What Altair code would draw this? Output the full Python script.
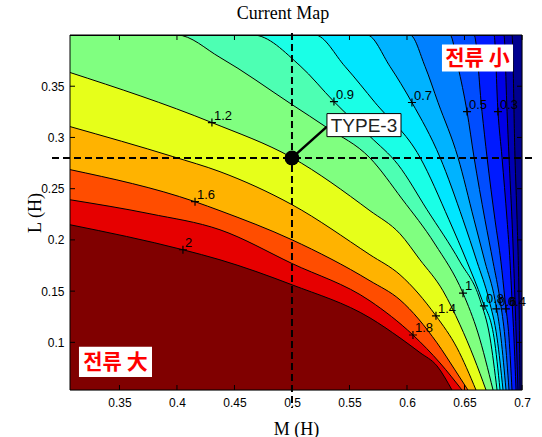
import altair as alt
import pandas as pd

# Axis extents (H)
M_MIN, M_MAX = 0.307, 0.700
L_MIN, L_MAX = 0.0535, 0.400

x_ticks = [0.35, 0.4, 0.45, 0.5, 0.55, 0.6, 0.65, 0.7]
y_ticks = [0.1, 0.15, 0.2, 0.25, 0.3, 0.35]

# Contour levels of the current and the fill colour (jet) of the region above each level
levels = [0.1, 0.2, 0.3, 0.4, 0.5, 0.6, 0.7, 0.8, 0.9, 1.0, 1.2, 1.4, 1.6, 1.8, 2.0]
level_colors = ["#0000b3", "#0000e6", "#001aff", "#004dff", "#0080ff", "#00b3ff",
                "#00e6ff", "#1affe6", "#4dffb3", "#80ff80", "#e6ff1a", "#ffb300",
                "#ff4d00", "#e60000", "#800000"]
below_color = "#00008f"

# Iso-current lines, traced as (M, L) pairs
c01_m = [0.6913, 0.6939, 0.6957, 0.6974, 0.6983]
c01_l = [0.400, 0.2806, 0.2197, 0.1415, 0.0535]
c02_m = [0.6843, 0.6870, 0.6887, 0.6913, 0.6939, 0.6965]
c02_l = [0.400, 0.3253, 0.2806, 0.2197, 0.1415, 0.0535]
c03_m = [0.6757, 0.6791, 0.6826, 0.6870, 0.6896, 0.6913, 0.6930, 0.6948]
c03_l = [0.400, 0.3253, 0.2806, 0.2197, 0.1786, 0.1415, 0.1044, 0.0535]
c04_m = [0.6583, 0.6652, 0.6696, 0.6765, 0.6817, 0.6852, 0.6887, 0.6913]
c04_l = [0.400, 0.3253, 0.2806, 0.2197, 0.1786, 0.1415, 0.1044, 0.0535]
c05_m = [0.6374, 0.6443, 0.6522, 0.6583, 0.6678, 0.6748, 0.6809, 0.6852, 0.6887]
c05_l = [0.400, 0.3693, 0.3253, 0.2806, 0.2197, 0.1786, 0.1415, 0.1044, 0.0535]
c06_m = [0.6026, 0.6157, 0.6270, 0.6443, 0.6583, 0.6678, 0.6765, 0.6817, 0.6861]
c06_l = [0.400, 0.3693, 0.3341, 0.2806, 0.2197, 0.1786, 0.1415, 0.1044, 0.0535]
c07_m = [0.5652, 0.5852, 0.6043, 0.6287, 0.6487, 0.6609, 0.6713, 0.6783, 0.6835]
c07_l = [0.400, 0.3693, 0.3341, 0.2806, 0.2197, 0.1786, 0.1415, 0.1044, 0.0535]
c08_m = [0.5200, 0.5461, 0.5722, 0.6113, 0.6365, 0.6522, 0.6652, 0.6757, 0.6809]
c08_l = [0.400, 0.3693, 0.3341, 0.2806, 0.2197, 0.1786, 0.1415, 0.1044, 0.0535]
c09_m = [0.4661, 0.5070, 0.5365, 0.5678, 0.5922, 0.6174, 0.6461, 0.6635, 0.6722, 0.6783]
c09_l = [0.400, 0.3700, 0.3350, 0.3010, 0.2735, 0.2295, 0.1786, 0.1415, 0.1044, 0.0535]
c10_m = [0.4000, 0.4374, 0.5000, 0.5304, 0.5678, 0.5957, 0.6243, 0.6487, 0.6617, 0.6748]
c10_l = [0.400, 0.3781, 0.3321, 0.3096, 0.2800, 0.2400, 0.1960, 0.1480, 0.1092, 0.0535]
c12_m = [0.307, 0.4304, 0.5000, 0.5678, 0.5939, 0.6113, 0.6313, 0.6461, 0.6583, 0.6687]
c12_l = [0.3634, 0.3145, 0.2803, 0.2285, 0.2060, 0.1806, 0.1503, 0.1171, 0.0848, 0.0535]
c14_m = [0.307, 0.3965, 0.4374, 0.5000, 0.5678, 0.5939, 0.6252, 0.6435, 0.6600]
c14_l = [0.3106, 0.2813, 0.2666, 0.2344, 0.1855, 0.1660, 0.1259, 0.0946, 0.0535]
c16_m = [0.307, 0.4157, 0.4374, 0.5000, 0.5678, 0.5939, 0.6261, 0.6417, 0.6530]
c16_l = [0.2686, 0.2373, 0.2285, 0.2001, 0.1601, 0.1415, 0.0995, 0.0731, 0.0535]
c18_m = [0.307, 0.3765, 0.4374, 0.5000, 0.5678, 0.6052, 0.6287, 0.6478]
c18_l = [0.2392, 0.2255, 0.2099, 0.1770, 0.1405, 0.1072, 0.0799, 0.0535]
c20_m = [0.307, 0.4052, 0.4374, 0.5000, 0.5678, 0.5939, 0.6113, 0.6261, 0.6391]
c20_l = [0.2148, 0.1904, 0.1806, 0.1562, 0.1239, 0.1044, 0.0900, 0.0770, 0.0535]

traces = [(c01_m, c01_l), (c02_m, c02_l), (c03_m, c03_l), (c04_m, c04_l),
          (c05_m, c05_l), (c06_m, c06_l), (c07_m, c07_l), (c08_m, c08_l),
          (c09_m, c09_l), (c10_m, c10_l), (c12_m, c12_l), (c14_m, c14_l),
          (c16_m, c16_l), (c18_m, c18_l), (c20_m, c20_l)]

# Inline contour labels (clabel style)
label_text = ["2", "1.8", "1.6", "1.4", "1.2", "1", "0.9", "0.8", "0.7", "0.6", "0.5", "0.4", "0.3"]
label_m = [0.4052, 0.6052, 0.4157, 0.6252, 0.4304, 0.6487, 0.5365, 0.6669, 0.6043, 0.6777, 0.6522, 0.6860, 0.6791]
label_l = [0.1904, 0.1072, 0.2373, 0.1259, 0.3145, 0.1480, 0.3350, 0.1356, 0.3341, 0.1327, 0.3253, 0.1327, 0.3253]

# Operating point TYPE-3
op_m, op_l = 0.50, 0.28
op_name = "TYPE-3"
op_box_m = [0.5304, 0.5948]
op_box_l = [0.3008, 0.3233]
op_leader_end = (0.5304, 0.3106)

# Region captions
cap_text = ["전류 小", "전류 大"]
cap_box_m1 = [0.6304, 0.3148]
cap_box_m2 = [0.6922, 0.3783]
cap_box_l1 = [0.3644, 0.0663]
cap_box_l2 = [0.3908, 0.0956]

W, H = 452, 355
SANS = "Liberation Sans"
SERIF = "Liberation Serif"
CURVE = "monotone"

x_scale = alt.Scale(domain=[M_MIN, M_MAX], nice=False, zero=False)
y_scale = alt.Scale(domain=[L_MIN, L_MAX], nice=False, zero=False)
x_axis = alt.Axis(values=x_ticks, format="~g", ticks=False, domain=False, grid=False,
                  labelFont=SANS, labelFontSize=12, labelColor="black", labelPadding=7,
                  labelFlush=False, labelOverlap=False, labelBound=False,
                  title="M (H)", titleFont=SERIF, titleFontSize=18, titleFontWeight="normal",
                  titleColor="black", titleBaseline="alphabetic", titleY=44)
y_axis = alt.Axis(values=y_ticks, format="~g", ticks=False, domain=False, grid=False,
                  labelFont=SANS, labelFontSize=12, labelColor="black", labelPadding=6,
                  labelOverlap=False, labelBound=False,
                  title="L (H)", titleFont=SERIF, titleFontSize=18, titleFontWeight="normal",
                  titleColor="black", titleBaseline="alphabetic", titleX=-30, titleY=H / 2)


def X(field):
    return alt.X(f"{field}:Q", scale=x_scale, axis=x_axis)


def Y(field):
    return alt.Y(f"{field}:Q", scale=y_scale, axis=y_axis)


def closed_trace(ms, ls):
    """Extend a line that leaves through the top edge to the top-left corner."""
    ms, ls = list(ms), list(ls)
    if ls[0] >= L_MAX and ms[0] > M_MIN:
        ms = [M_MIN] + ms
        ls = [L_MAX] + ls
    return ms, ls


layers = []

# Background band (below the lowest level)
bg = pd.DataFrame({"M": [M_MIN, M_MAX], "L": [L_MAX, L_MAX], "base": [L_MIN, L_MIN]})
layers.append(alt.Chart(bg).mark_area(color=below_color, clip=True)
              .encode(x=X("M"), y=Y("L"), y2="base:Q"))

# Filled regions: each level paints everything on its high-current side
rows = []
for level, color, (ms, ls) in zip(levels, level_colors, traces):
    ms, ls = closed_trace(ms, ls)
    df = pd.DataFrame({"M": ms, "L": ls, "base": L_MIN})
    layers.append(alt.Chart(df).mark_area(color=color, clip=True, interpolate=CURVE)
                  .encode(x=X("M"), y=Y("L"), y2="base:Q"))
    for i, (m, l) in enumerate(zip(ms, ls)):
        rows.append({"level": level, "idx": i, "M": m, "L": l})

# Contour lines
lines = pd.DataFrame(rows)
layers.append(alt.Chart(lines).mark_line(color="black", strokeWidth=1, clip=True, interpolate=CURVE)
              .encode(x=X("M"), y=Y("L"), detail="level:N", order="idx:Q"))

# Inward ticks on all four sides
xt = pd.DataFrame({"M": x_ticks})
yt = pd.DataFrame({"L": y_ticks})
TL = 5
layers.append(alt.Chart(xt).mark_rule(color="black", strokeWidth=1)
              .encode(x=X("M"), y=alt.value(H), y2=alt.value(H - TL)))
layers.append(alt.Chart(xt).mark_rule(color="black", strokeWidth=1)
              .encode(x=X("M"), y=alt.value(0), y2=alt.value(TL)))
layers.append(alt.Chart(yt).mark_rule(color="black", strokeWidth=1)
              .encode(y=Y("L"), x=alt.value(0), x2=alt.value(TL)))
layers.append(alt.Chart(yt).mark_rule(color="black", strokeWidth=1)
              .encode(y=Y("L"), x=alt.value(W), x2=alt.value(W - TL)))

# Frame
frame = alt.Data(values=[{"k": 1}])
layers.append(alt.Chart(frame).mark_rect(fill="transparent", stroke="black", strokeWidth=1)
              .encode(x=alt.value(0), x2=alt.value(W), y=alt.value(0), y2=alt.value(H)))

# Dashed cross-hair through the operating point
op = pd.DataFrame({"M": [op_m], "L": [op_l]})
layers.append(alt.Chart(op).mark_rule(color="black", strokeWidth=2, strokeDash=[7, 4])
              .encode(y=Y("L"), x=alt.value(-18), x2=alt.value(W + 10)))
layers.append(alt.Chart(op).mark_rule(color="black", strokeWidth=2, strokeDash=[7, 4])
              .encode(x=X("M"), y=alt.value(-2), y2=alt.value(H + 18)))

# Contour labels with '+' markers
lab = pd.DataFrame({"M": label_m, "L": label_l, "t": label_text})
layers.append(alt.Chart(lab).mark_point(shape="M-1,0L1,0M0,-1L0,1", size=64, color="black",
                                        strokeWidth=1.2, filled=False, opacity=1)
              .encode(x=X("M"), y=Y("L")))
layers.append(alt.Chart(lab).mark_text(align="left", baseline="alphabetic", dx=2, dy=-3,
                                       font=SANS, fontSize=13, color="black")
              .encode(x=X("M"), y=Y("L"), text="t:N"))

# Operating point marker, leader and tag
leader = pd.DataFrame({"M": [op_m], "L": [op_l], "M2": [op_leader_end[0]], "L2": [op_leader_end[1]]})
layers.append(alt.Chart(leader).mark_rule(color="black", strokeWidth=2.5)
              .encode(x=X("M"), y=Y("L"), x2="M2:Q", y2="L2:Q"))
layers.append(alt.Chart(op).mark_circle(size=220, color="black", opacity=1)
              .encode(x=X("M"), y=Y("L")))
tag = pd.DataFrame({"M": [op_box_m[0]], "M2": [op_box_m[1]], "L": [op_box_l[0]], "L2": [op_box_l[1]],
                    "Mc": [(op_box_m[0] + op_box_m[1]) / 2], "Lc": [(op_box_l[0] + op_box_l[1]) / 2],
                    "t": [op_name]})
layers.append(alt.Chart(tag).mark_rect(fill="white", stroke="black", strokeWidth=1)
              .encode(x=X("M"), x2="M2:Q", y=Y("L"), y2="L2:Q"))
layers.append(alt.Chart(tag).mark_text(font=SANS, fontSize=19, color="#222222",
                                       align="center", baseline="middle", dy=1)
              .encode(x=X("Mc"), y=Y("Lc"), text="t:N"))

# Region captions
cap = pd.DataFrame({"M": cap_box_m1, "M2": cap_box_m2, "L": cap_box_l1, "L2": cap_box_l2,
                    "t": cap_text})
cap["Mc"] = (cap["M"] + cap["M2"]) / 2
cap["Lc"] = (cap["L"] + cap["L2"]) / 2
layers.append(alt.Chart(cap).mark_rect(fill="white")
              .encode(x=X("M"), x2="M2:Q", y=Y("L"), y2="L2:Q"))
layers.append(alt.Chart(cap).mark_text(font="Noto Sans CJK KR", fontSize=21, fontWeight="bold",
                                       color="#ff0000", align="center", baseline="middle", dy=1)
              .encode(x=X("Mc"), y=Y("Lc"), text="t:N"))

chart = alt.layer(*layers).properties(
    width=W,
    height=H,
    title=alt.Title("Current Map", font=SERIF, fontSize=18, fontWeight="normal",
                    color="black", anchor="middle", dx=-13, offset=9),
    autosize=alt.AutoSizeParams(type="none"),
    padding={"left": 70, "top": 35, "right": 20, "bottom": 47},
).configure_view(stroke="transparent").configure(background="white")

chart.save("out.html", embed_options={"renderer": "svg", "actions": False})
